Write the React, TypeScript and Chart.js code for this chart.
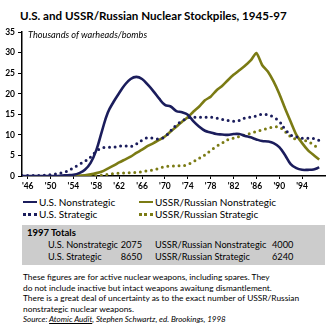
import React, { useEffect, useRef } from "react";
import { Chart, registerables } from "chart.js";

Chart.register(...registerables);

const years = [1945,1946,1947,1948,1949,1950,1951,1952,1953,1954,1955,1956,1957,1958,1959,1960,1961,1962,1963,1964,1965,1966,1967,1968,1969,1970,1971,1972,1973,1974,1975,1976,1977,1978,1979,1980,1981,1982,1983,1984,1985,1986,1987,1988,1989,1990,1991,1992,1993,1994,1995,1996,1997];

const usNonstrategic = [0,0,0,0,0,0,0,0.1,0.2,0.3,0.7,1.5,3.2,6.3,11,15.4,18,20.2,22.2,23.6,24.1,23.6,22.2,20.6,18.8,17.3,16.9,15.8,15.5,14.9,13.3,12,11,10.6,10.2,10.1,10,10.2,10.2,9.75,9.4,8.9,8.5,8.4,8,7,5.1,2.9,1.9,1.5,1.5,1.6,2.1];
const usStrategic = [0.1,0.1,0.1,0.1,0.2,0.3,0.5,0.8,1.2,2,2.8,3.6,4.6,6,6.8,7,7,7.3,7.3,7.2,7.8,8.7,9.3,9.2,9,9.6,11,12.4,13.4,14.1,14.3,14.3,14.3,14.3,14.1,13.8,13.5,13.3,13.5,14.1,14.3,14.6,15,14.9,14.3,13.3,11.4,10,9.5,9.2,9.2,9.1,8.65];
const ussrYears = [1954,1955,1956,1957,1958,1959,1960,1961,1962,1963,1964,1965,1966,1967,1968,1969,1970,1971,1972,1973,1974,1975,1976,1977,1978,1979,1980,1981,1982,1983,1984,1985,1986,1987,1988,1989,1990,1991,1992,1993,1994,1995,1996,1997];
const ussrNonstrategic = [0,0.1,0.2,0.4,0.7,1.1,1.8,2.5,3.3,4,4.7,5.6,6.4,7.3,8,8.8,9.6,10.8,12,13.2,14.3,15.7,16.9,18.4,19.3,20.8,21.9,23.3,24.6,25.7,26.8,28.1,29.9,27,25.4,23,20,16.5,13.2,10,8,6.3,5.1,4];
const ussrStrategic = [0,0,0,0,0.1,0.2,0.4,0.6,0.7,0.75,0.8,0.9,1.05,1.3,1.5,1.9,2.3,2.4,2.5,2.5,2.8,3.5,4.3,5.1,6.2,7.2,8,8.8,9.2,9.6,10,10.4,10.8,11.2,11.6,11.9,11.9,10.8,9.6,8.9,8.8,8.4,7.6,6.5];

const xTicks = [1946,1950,1954,1958,1962,1966,1970,1974,1978,1982,1986,1990,1994];
const yTicks = [0,5,10,15,20,25,30,35];

const NAVY = "#1b1d5c";
const OLIVE = "#7b7b14";
const FONT = "Lato, 'Open Sans', sans-serif";

function pts(xs: number[], ys: number[]) {
  return xs.map((x, i) => ({ x, y: ys[i] }));
}

function ChartBox() {
  const ref = useRef<HTMLCanvasElement | null>(null);
  useEffect(() => {
    if (!ref.current) return;
    const dotted = { borderWidth: 3, borderDash: [0, 5.6], borderCapStyle: "round" as const };
    const chart = new Chart(ref.current, {
      type: "line",
      data: {
        datasets: [
          { data: pts(years, usNonstrategic), borderColor: NAVY, borderWidth: 2.6, tension: 0.4 },
          { data: pts(years, usStrategic), borderColor: NAVY, tension: 0.4, ...dotted },
          { data: pts(ussrYears, ussrNonstrategic), borderColor: OLIVE, borderWidth: 2.6, tension: 0.2 },
          { data: pts(ussrYears, ussrStrategic), borderColor: OLIVE, tension: 0.4, ...dotted },
        ],
      },
      options: {
        animation: false,
        responsive: false,
        maintainAspectRatio: false,
        elements: { point: { radius: 0 } },
        layout: { padding: { top: 8, right: 10, left: 0, bottom: 0 } },
        plugins: { legend: { display: false }, tooltip: { enabled: false } },
        scales: {
          x: {
            type: "linear",
            min: 1945,
            max: 1998,
            afterBuildTicks: (s: any) => { s.ticks = xTicks.map((v) => ({ value: v })); },
            afterFit: (s: any) => { s.height = 20; },
            ticks: {
              autoSkip: false,
              maxRotation: 0,
              padding: 2,
              color: "#000",
              font: { family: FONT, size: 8.5, weight: "bold" },
              callback: (v: any) => "'" + String(v).slice(2),
            },
            grid: { drawOnChartArea: false, drawTicks: true, tickLength: 3, color: "#000" },
            border: { display: true, color: "#000", width: 1.5 },
          },
          y: {
            min: 0,
            max: 35,
            afterBuildTicks: (s: any) => { s.ticks = yTicks.map((v) => ({ value: v })); },
            afterFit: (s: any) => { s.width = 22; },
            ticks: {
              padding: 3,
              color: "#000",
              font: { family: FONT, size: 8.5, weight: "bold" },
            },
            grid: { drawOnChartArea: false, drawTicks: true, tickLength: 4, color: "#000" },
            border: { display: true, color: "#000", width: 1.5 },
          },
        },
      },
    });
    return () => chart.destroy();
  }, []);
  return <canvas ref={ref} width={335} height={172} style={{ position: "absolute", left: 0, top: 24, width: 335, height: 172 }} />;
}

const abs = (left: number, top: number, extra: React.CSSProperties = {}): React.CSSProperties => ({
  position: "absolute", left, top, whiteSpace: "nowrap", lineHeight: "1", ...extra,
});

function LegendItem({ left, top, color, dotted, label }: { left: number; top: number; color: string; dotted: boolean; label: string }) {
  return (
    <>
      <div style={abs(left, top + 4, {
        width: 14, height: 0,
        borderTop: dotted ? `3px dotted ${color}` : `2.5px solid ${color}`,
      })} />
      <div style={abs(left + 16, top - 0.5, { fontSize: 10 })}>{label}</div>
    </>
  );
}

export default function App() {
  return (
    <div style={{ position: "fixed", left: 0, top: 0, width: 335, height: 324, background: "#fff", fontFamily: FONT, color: "#000", overflow: "hidden" }}>
      <div style={abs(20, 10, { fontSize: 11.6, fontWeight: "bold" })}>U.S. and USSR/Russian Nuclear Stockpiles, 1945-97</div>
      <ChartBox />
      <div style={abs(28, 29.5, { fontSize: 9.2, fontStyle: "italic" })}>Thousands of warheads/bombs</div>

      <LegendItem left={23} top={197} color={NAVY} dotted={false} label="U.S. Nonstrategic" />
      <LegendItem left={23} top={209} color={NAVY} dotted={true} label="U.S. Strategic" />
      <LegendItem left={139} top={197} color={OLIVE} dotted={false} label="USSR/Russian Nonstrategic" />
      <LegendItem left={139} top={209} color={OLIVE} dotted={true} label="USSR/Russian Strategic" />

      <div style={abs(22, 225, { width: 303, height: 40, background: "#cccccc" })} />
      <div style={abs(27, 227.5, { fontSize: 9.5, fontWeight: "bold" })}>1997 Totals</div>
      <div style={abs(48, 239.5, { fontSize: 9.2 })}>U.S. Nonstrategic</div>
      <div style={abs(112, 239.5, { fontSize: 9.2, width: 30, textAlign: "right" })}>2075</div>
      <div style={abs(155, 239.5, { fontSize: 9.2 })}>USSR/Russian Nonstrategic</div>
      <div style={abs(272, 239.5, { fontSize: 9.2 })}>4000</div>
      <div style={abs(48, 251.5, { fontSize: 9.2 })}>U.S. Strategic</div>
      <div style={abs(112, 251.5, { fontSize: 9.2, width: 30, textAlign: "right" })}>8650</div>
      <div style={abs(155, 251.5, { fontSize: 9.2 })}>USSR/Russian Strategic</div>
      <div style={abs(272, 251.5, { fontSize: 9.2 })}>6240</div>

      <div style={abs(23, 272, { fontSize: 8.35, lineHeight: "10.6px", whiteSpace: "normal", width: 312 })}>
        These figures are for active nuclear weapons, including spares. They<br />
        do not include inactive but intact weapons awaitung dismantlement.<br />
        There is a great deal of uncertainty as to the exact number of USSR/Russian<br />
        nonstrategic nuclear weapons.
      </div>
      <div style={abs(23, 315, { fontSize: 8, fontStyle: "italic" })}>
        Source: <span style={{ textDecoration: "underline" }}>Atomic Audit</span>, Stephen Schwartz, ed. Brookings, 1998
      </div>
    </div>
  );
}
